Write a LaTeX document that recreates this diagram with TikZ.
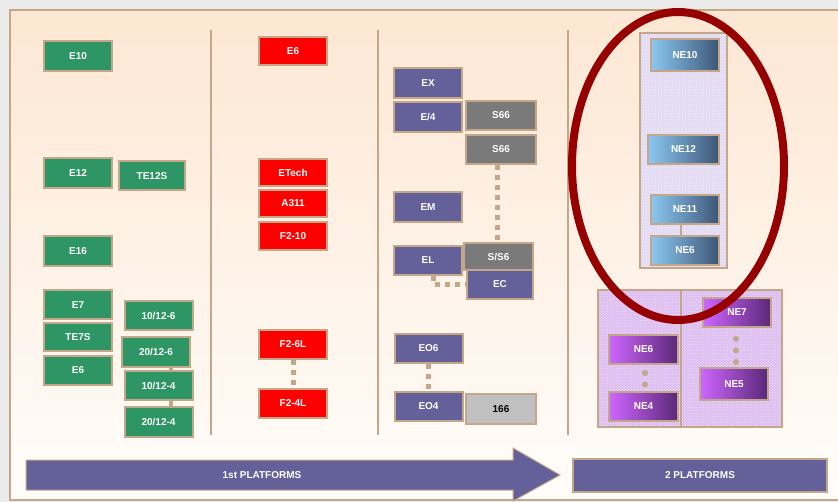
\documentclass[tikz,border=0pt]{standalone}
\usepackage{fontspec}
\setmainfont{Liberation Sans}
\usetikzlibrary{patterns,calc}
\definecolor{tanb}{RGB}{196,166,136}
\definecolor{grn}{RGB}{46,150,100}
\definecolor{rd}{RGB}{255,0,0}
\definecolor{blu}{RGB}{99,96,154}
\definecolor{gry}{RGB}{122,122,122}
\definecolor{lgry}{RGB}{192,192,192}
\definecolor{ell}{RGB}{150,0,0}
\definecolor{peach}{RGB}{253,231,211}
\definecolor{offw}{RGB}{255,253,250}
\definecolor{lav}{RGB}{226,218,242}
\definecolor{lavp}{RGB}{222,190,242}
\definecolor{nblA}{RGB}{140,200,242}
\definecolor{nblB}{RGB}{62,86,118}
\definecolor{npA}{RGB}{206,102,255}
\definecolor{npB}{RGB}{90,40,120}
\tikzset{
  bx/.style={draw=tanb, line width=2pt, minimum width=68pt, minimum height=29pt, inner sep=0pt,
    text=white, font=\bfseries\fontsize{10}{12}\selectfont},
  gbox/.style={bx, fill=grn},
  rbox/.style={bx, fill=rd},
  bbox/.style={bx, fill=blu},
  sbox/.style={bx, fill=gry, minimum width=70pt},
  lbox/.style={bx, fill=lgry, text=black, minimum width=70pt},
  nbox/.style={bx, left color=nblA, right color=nblB},
  pbox/.style={bx, left color=npA, right color=npB},
  link/.style={draw=tanb, line width=4pt},
  dlink/.style={draw=tanb, line width=5pt, dash pattern=on 5pt off 5pt},
  rlink/.style={draw=tanb, line width=6pt, line cap=round, dash pattern=on 0pt off 11.5pt},
  sep/.style={draw=tanb, line width=1.5pt},
  panel/.style={draw=tanb, line width=1.5pt},
}
\begin{document}
\begin{tikzpicture}[x=1pt,y=-1pt]
\useasboundingbox (0,0) rectangle (838,502);
% background
\fill[black!8] (0,0) rectangle (838,502);
\shade[top color=peach, bottom color=offw, draw=tanb, line width=1.5pt] (10,10) rectangle (842,500);
% separators
\draw[sep] (211,30) -- (211,435);
\draw[sep] (378,30) -- (378,435);
\draw[sep] (568,30) -- (568,435);

% green column
\node[gbox, minimum height=30pt] (g1) at (78,56) {E10};
\node[gbox, minimum height=30pt] (g2) at (78,173) {E12};
\node[gbox, minimum width=66pt] (g3) at (152,176) {TE12S};
\node[gbox, minimum height=30pt] (g4) at (78,251) {E16};
\node[gbox] (g5) at (78,305) {E7};
\node[gbox, minimum height=28pt] (g6) at (78,337) {TE7S};
\node[gbox] (g7) at (78,370.5) {E6};
\node[gbox] (g8) at (158.5,315.5) {10/12-6};
\node[gbox, minimum height=30pt] (g9) at (156,352) {20/12-6};
\node[gbox] (g10) at (158.5,386) {10/12-4};
\node[gbox] (g11) at (158.5,422) {20/12-4};
\draw[link] ([xshift=12pt]g10.north) -- ([xshift=12pt]g10.north |- g9.south);
\draw[link] ([xshift=12pt]g10.south) -- ([xshift=12pt]g11.north);

% red column
\node[rbox, minimum height=28pt] (r1) at (293,51) {E6};
\node[rbox, minimum height=27pt] (r2) at (293,172.5) {ETech};
\node[rbox, minimum height=27pt] (r3) at (293,203.5) {A311};
\node[rbox, minimum height=28pt] (r4) at (293,236) {F2-10};
\node[rbox] (r5) at (293,344.5) {F2-6L};
\node[rbox] (r6) at (293,403.5) {F2-4L};
\draw[dlink] (r5.south) -- (r6.north);

% blue column
\node[bbox, minimum height=30pt] (b1) at (428,83) {EX};
\node[bbox, minimum height=30pt] (b2) at (428,117) {E/4};
\node[sbox] (s1) at (501,115.5) {S66};
\node[sbox] (s2) at (501,149.5) {S66};
\node[bbox, minimum height=30pt] (b3) at (428,207) {EM};
\node[bbox] (b4) at (428,260.5) {EL};
\node[bbox, minimum width=66pt] (b5) at (500,284.5) {EC};
\node[sbox, minimum width=69pt, minimum height=27pt] (s3) at (498.5,256.5) {S/S6};
\draw[dlink] ([xshift=-4pt]s2.south) -- ([xshift=-4pt]s2.south |- s3.north);
\draw[dlink] ([xshift=5pt]b4.south) |- (b5.west);
\node[bbox] (b6) at (428.5,348.5) {EO6};
\node[bbox] (b7) at (428.5,406.5) {EO4};
\draw[dlink] (b6.south) -- (b7.north);
\node[lbox, minimum height=30pt] (s4) at (501,409) {166};

% upper right group
\fill[lav] (640,33) rectangle (727,268);
\fill[pattern=crosshatch dots, pattern color=white!70!lav] (640,33) rectangle (727,268);
\draw[panel] (640,33) rectangle (727,268);
\node[nbox, minimum height=32pt] (n1) at (685,55) {NE10};
\node[nbox, minimum width=71pt] (n2) at (683.5,149.5) {NE12};
\node[nbox] (n3) at (685,209.5) {NE11};
\node[nbox] (n4) at (685,250.5) {NE6};
\draw[link, line width=2pt] ([xshift=-4pt]n3.south) -- ([xshift=-4pt]n4.north);

% lower right group
\fill[lavp] (598,290) rectangle (782,427);
\fill[pattern=crosshatch dots, pattern color=white!60!lavp] (598,290) rectangle (782,427);
\draw[panel] (598,290) rectangle (681,427);
\draw[panel] (681,290) rectangle (782,427);
\node[pbox] (p1) at (737,312.5) {NE7};
\node[pbox, minimum width=69pt] (p2) at (643.5,349.5) {NE6};
\node[pbox, minimum width=69pt] (p3) at (643.5,406.5) {NE4};
\node[pbox, minimum height=32pt] (p4) at (734,384) {NE5};
\draw[rlink] ([xshift=-1pt,yshift=-11pt]p1.south) -- ([xshift=-1pt,yshift=5pt]p1.south |- p4.north);
\draw[rlink] ([xshift=1.5pt,yshift=-8pt]p2.south) -- ([xshift=1.5pt,yshift=6pt]p3.north);

% bottom bars
\fill[blu, draw=tanb, line width=1pt] (26,460) -- (513,460) -- (513,448) -- (560,475) -- (513,501) -- (513,490) -- (26,490) -- cycle;
\node[text=white, font=\bfseries\fontsize{10}{12}\selectfont] (t1) at (262,475) {1st PLATFORMS};
\node[draw=tanb, line width=1.5pt, fill=blu, minimum width=254pt, minimum height=33pt, inner sep=0pt,
  text=white, font=\bfseries\fontsize{10}{12}\selectfont] (t2) at (700,475.5) {2 PLATFORMS};

% highlight ellipse
\draw[ell, line width=8pt] (678,166) ellipse [x radius=106pt, y radius=154pt];
\end{tikzpicture}
\end{document}
